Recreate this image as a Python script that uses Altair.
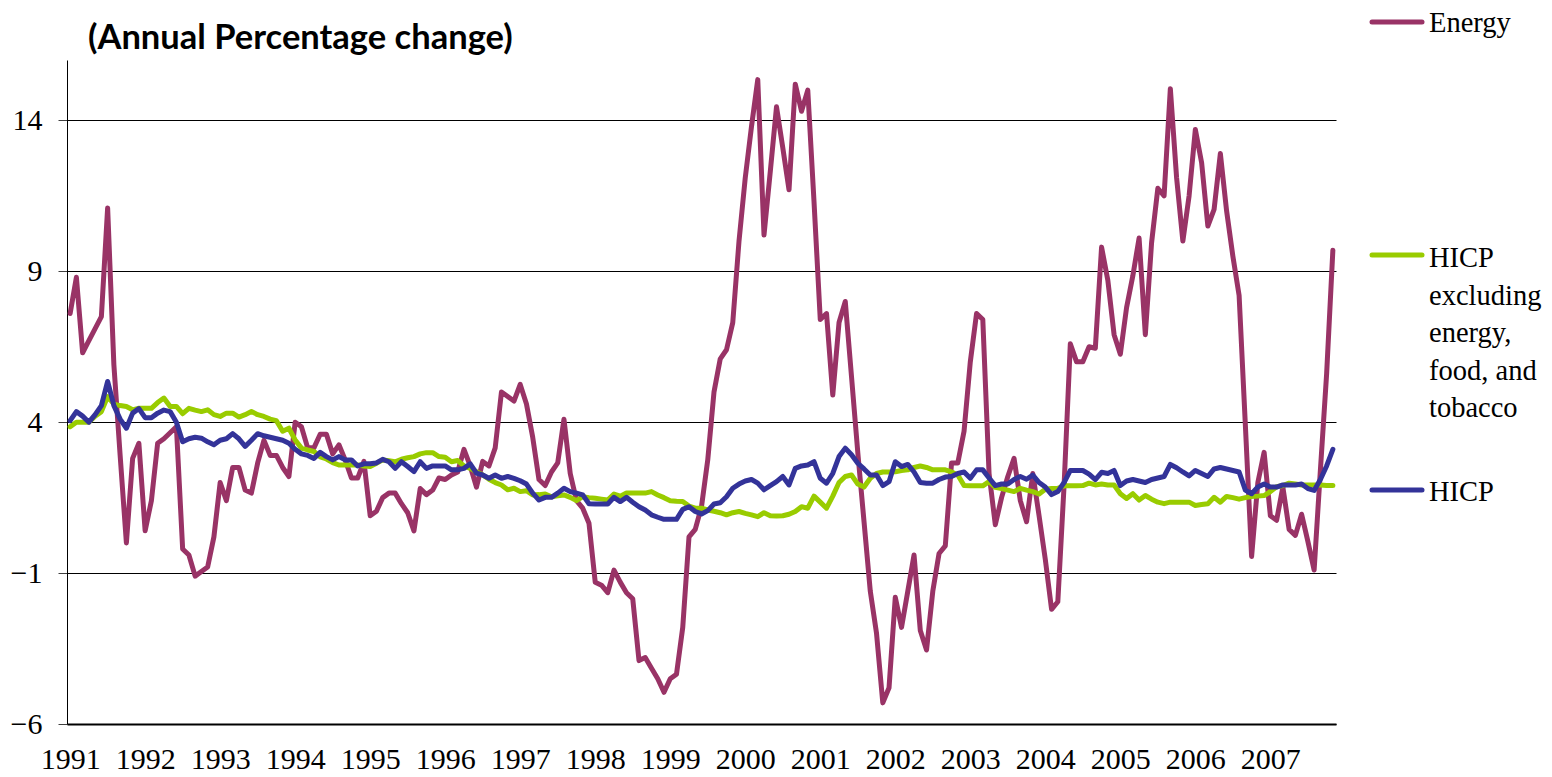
import json
import altair as alt
import pandas as pd

# ---------------- data ----------------
years = [str(y) for y in range(1991, 2008)]

energy = [
    7.6, 8.8, 6.3, 6.7, 7.1, 7.5, 11.1, 5.9, 2.9, 0.0, 2.8, 3.3,          # 1991
    0.4, 1.4, 3.3, 3.45, 3.65, 3.85, -0.2, -0.4, -1.1, -0.95, -0.8, 0.2,  # 1992
    2.0, 1.4, 2.5, 2.5, 1.75, 1.65, 2.65, 3.4, 2.9, 2.9, 2.5, 2.2,        # 1993
    4.0, 3.85, 3.15, 3.15, 3.6, 3.6, 2.95, 3.25, 2.75, 2.15, 2.15, 2.7,   # 1994
    0.9, 1.05, 1.5, 1.65, 1.65, 1.3, 1.0, 0.4, 1.8, 1.6, 1.75, 2.15,      # 1995
    2.1, 2.25, 2.35, 3.1, 2.55, 1.85, 2.7, 2.55, 3.15, 5.0, 4.85, 4.7,    # 1996
    5.25, 4.6, 3.5, 2.1, 1.9, 2.35, 2.65, 4.1, 2.3, 1.4, 1.15, 0.65,      # 1997
    -1.3, -1.4, -1.65, -0.9, -1.3, -1.65, -1.85, -3.9, -3.8, -4.15, -4.5, -4.95,  # 1998
    -4.5, -4.35, -2.8, 0.2, 0.45, 1.2, 2.75, 5.0, 6.1, 6.4, 7.3, 10.0,    # 1999
    12.1, 13.8, 15.35, 10.2, 12.3, 14.45, 13.1, 11.7, 15.2, 14.3, 15.0, 11.3,  # 2000
    7.4, 7.6, 4.9, 7.3, 8.0, 5.5, 3.0, 0.7, -1.6, -3.0, -5.3, -4.8,       # 2001
    -1.8, -2.8, -1.6, -0.4, -2.9, -3.55, -1.6, -0.35, -0.1, 2.65, 2.65, 3.7,  # 2002
    6.0, 7.6, 7.4, 2.3, 0.6, 1.5, 2.2, 2.8, 1.4, 0.7, 2.3, 0.9,           # 2003
    -0.55, -2.2, -1.95, 1.9, 6.6, 6.0, 6.0, 6.5, 6.45, 9.8, 8.7, 6.9,     # 2004
    6.25, 7.8, 8.85, 10.1, 6.9, 9.95, 11.75, 11.5, 15.05, 12.1, 10.0, 11.5,  # 2005
    13.7, 12.6, 10.5, 11.05, 12.9, 11.0, 9.5, 8.2, 3.9, -0.45, 2.0, 3.0,  # 2006
    0.9, 0.75, 1.85, 0.45, 0.25, 0.95, 0.05, -0.9, 2.4, 5.6, 9.7,         # 2007
]

core = [
    3.85, 4.0, 4.0, 4.0, 4.2, 4.35, 4.85, 4.6, 4.55, 4.52, 4.41, 4.46,
    4.46, 4.46, 4.65, 4.8, 4.52, 4.52, 4.28, 4.46, 4.4, 4.35, 4.41, 4.25,
    4.19, 4.3, 4.3, 4.17, 4.25, 4.35, 4.25, 4.19, 4.1, 4.05, 3.7, 3.8,
    3.41, 3.14, 3.08, 3.03, 2.85, 2.78, 2.66, 2.58, 2.58, 2.58, 2.58, 2.55,
    2.53, 2.64, 2.75, 2.72, 2.69, 2.77, 2.82, 2.86, 2.95, 2.99, 2.99, 2.86,
    2.84, 2.69, 2.73, 2.55, 2.47, 2.36, 2.25, 2.11, 2.0, 1.92, 1.76, 1.81,
    1.7, 1.73, 1.59, 1.6, 1.62, 1.53, 1.56, 1.59, 1.51, 1.4, 1.53, 1.5,
    1.48, 1.45, 1.42, 1.62, 1.55, 1.65, 1.65, 1.65, 1.65, 1.7, 1.59, 1.5,
    1.4, 1.38, 1.37, 1.22, 1.15, 1.15, 1.09, 1.05, 1.0, 0.93, 1.0, 1.04,
    0.98, 0.93, 0.87, 1.0, 0.9, 0.89, 0.9, 0.95, 1.04, 1.2, 1.15, 1.55,
    1.35, 1.15, 1.55, 2.0, 2.2, 2.25, 1.95, 1.85, 2.14, 2.3, 2.35, 2.35,
    2.36, 2.4, 2.42, 2.5, 2.55, 2.5, 2.42, 2.42, 2.42, 2.35, 2.25, 1.9,
    1.89, 1.89, 1.89, 2.03, 1.84, 1.8, 1.75, 1.7, 1.81, 1.75, 1.7, 1.62,
    1.78, 1.8, 1.81, 1.89, 1.89, 1.89, 1.9, 1.98, 1.92, 1.95, 1.92, 1.92,
    1.63, 1.47, 1.63, 1.42, 1.57, 1.45, 1.35, 1.3, 1.35, 1.35, 1.35, 1.35,
    1.24, 1.27, 1.3, 1.51, 1.35, 1.54, 1.5, 1.45, 1.5, 1.54, 1.55, 1.57,
    1.7, 1.86, 1.9, 1.98, 1.95, 1.92, 1.92, 1.92, 1.92, 1.9, 1.9,
]

hicp = [
    4.05, 4.35, 4.2, 4.0, 4.25, 4.55, 5.35, 4.55, 4.1, 3.8, 4.3, 4.45,
    4.15, 4.15, 4.3, 4.4, 4.35, 4.0, 3.35, 3.45, 3.5, 3.47, 3.35, 3.25,
    3.4, 3.45, 3.62, 3.45, 3.2, 3.4, 3.62, 3.55, 3.5, 3.45, 3.4, 3.3,
    3.1, 2.95, 2.9, 2.8, 3.0, 2.86, 2.75, 2.86, 2.75, 2.75, 2.55, 2.62,
    2.62, 2.65, 2.77, 2.69, 2.47, 2.69, 2.53, 2.36, 2.69, 2.47, 2.55, 2.55,
    2.55, 2.42, 2.42, 2.47, 2.62, 2.31, 2.25, 2.14, 2.25, 2.14, 2.2, 2.14,
    2.06, 1.95, 1.65, 1.42, 1.51, 1.51, 1.65, 1.81, 1.7, 1.65, 1.59, 1.3,
    1.29, 1.29, 1.29, 1.51, 1.37, 1.51, 1.35, 1.2, 1.09, 0.93, 0.85, 0.78,
    0.78, 0.78, 1.11, 1.2, 1.04, 0.96, 1.07, 1.29, 1.33, 1.53, 1.81, 1.95,
    2.05, 2.1, 1.98, 1.76, 1.9, 2.03, 2.2, 1.92, 2.47, 2.55, 2.58, 2.69,
    2.14, 1.98, 2.3, 2.86, 3.14, 2.92, 2.64, 2.45, 2.25, 2.25, 1.9, 2.03,
    2.69, 2.53, 2.6, 2.35, 2.0, 1.98, 1.98, 2.1, 2.18, 2.2, 2.3, 2.35,
    2.14, 2.42, 2.42, 2.15, 1.9, 1.95, 1.95, 2.1, 2.2, 2.11, 2.25, 2.0,
    1.85, 1.6, 1.7, 2.0, 2.4, 2.4, 2.4, 2.28, 2.1, 2.34, 2.3, 2.4,
    1.9, 2.05, 2.1, 2.05, 2.0, 2.1, 2.15, 2.2, 2.6, 2.49, 2.35, 2.22,
    2.4, 2.3, 2.2, 2.45, 2.5, 2.45, 2.4, 2.35, 1.75, 1.63, 1.85, 1.95,
    1.85, 1.85, 1.92, 1.92, 1.92, 1.95, 1.8, 1.74, 2.1, 2.55, 3.1,
]

series_names = ["Energy", "HICP excluding energy, food, and tobacco", "HICP"]
series_colors = ["#993366", "#99CC00", "#333399"]
legend_lines = [["Energy"], ["HICP", "excluding", "energy,", "food, and", "tobacco"], ["HICP"]]
y_ticks = [-6, -1, 4, 9, 14]
title_text = "(Annual Percentage change)"

# ---------------- build table ----------------
n = len(energy)
rows = []
for name, vals in zip(series_names, [energy, core, hicp]):
    for i, v in enumerate(vals):
        rows.append({"m": i + 0.5, "value": v, "series": name})
df = pd.DataFrame(rows)
one = pd.DataFrame({"k": [0]})

W, H = 1269, 664
SERIF = "Liberation Serif"

x_enc = alt.X(
    "m:Q",
    scale=alt.Scale(domain=[0, n], nice=False, zero=False),
    axis=alt.Axis(
        values=[12 * k + 0.5 for k in range(len(years))],
        labelExpr=json.dumps(years) + "[floor(datum.value / 12)]",
        title=None, grid=False, ticks=False, tickSize=0,
        labelFlush=False, labelOverlap=False,
        labelFont=SERIF, labelFontSize=30, labelColor="black",
        labelBaseline="alphabetic", labelPadding=44,
        domainColor="black", domainWidth=2,
    ),
)
y_enc = alt.Y(
    "value:Q",
    scale=alt.Scale(domain=[-6, 16], nice=False, zero=False),
    axis=alt.Axis(
        values=y_ticks, title=None, grid=True, gridColor="black", gridWidth=1,
        tickSize=9, tickColor="#404040", tickWidth=1, labelPadding=16,
        labelFont=SERIF, labelFontSize=30, labelColor="black", labelFlush=False,
        domainColor="black", domainWidth=1,
    ),
)
color_enc = alt.Color(
    "series:N",
    scale=alt.Scale(domain=series_names, range=series_colors),
    legend=None,
)

base = alt.Chart(df).encode(x=x_enc, y=y_enc, color=color_enc)
lines = [
    base.transform_filter(alt.datum.series == s).mark_line(
        strokeWidth=5, strokeCap="round", strokeJoin="round"
    )
    for s in series_names
]

title = alt.Chart(one).mark_text(
    text=title_text, font="Lato", fontSize=34.5, fontWeight="bold",
    align="left", baseline="alphabetic", color="black",
).encode(x=alt.value(21), y=alt.value(-11))

# legend (decoration, placed to the right of the plot area)
sym_y = [-38, 195, 430]
lab_y = [-28, 207, 441]
legend_layers = []
for name, col, lns, sy, ly in zip(series_names, series_colors, legend_lines, sym_y, lab_y):
    legend_layers.append(
        alt.Chart(one).mark_rule(color=col, strokeWidth=5, strokeCap="round").encode(
            x=alt.value(1305), x2=alt.value(1355), y=alt.value(sy)
        )
    )
    legend_layers.append(
        alt.Chart(one).mark_text(
            align="left", baseline="alphabetic", font=SERIF, fontSize=28.5,
            lineHeight=37.5, color="black",
        ).encode(x=alt.value(1362), y=alt.value(ly), text=alt.value(lns))
    )

chart = alt.layer(*lines, title, *legend_layers).properties(
    width=W, height=H,
    padding={"left": 59, "top": 52, "right": 208, "bottom": 53},
    autosize=alt.AutoSizeParams(type="none"),
    background="white",
).configure_view(stroke=None)

chart.save("out.html", embed_options={"renderer": "svg", "actions": False})
